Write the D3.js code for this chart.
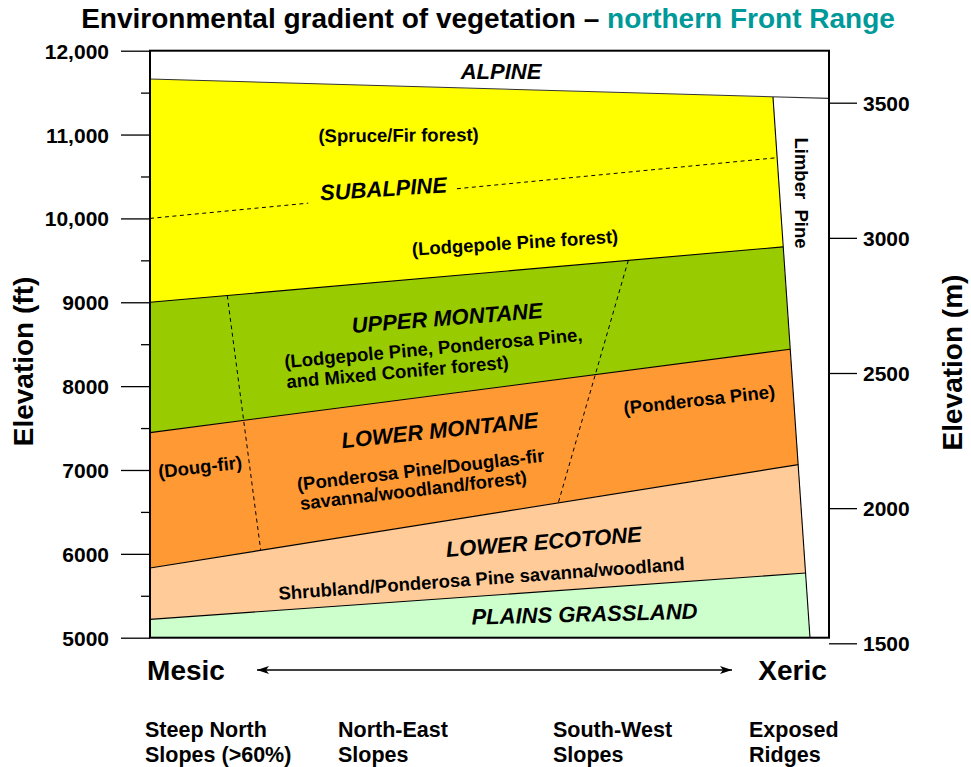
<!DOCTYPE html>
<html>
<head>
<meta charset="utf-8">
<script src="https://cdn.jsdelivr.net/npm/d3@7"></script>
<style>
  html, body { margin: 0; padding: 0; background: #fff; }
  svg { display: block; font-family: "Liberation Sans", Arial, Helvetica, sans-serif; }
</style>
</head>
<body>
<svg id="chart" width="971" height="767"></svg>
<script>
// ---------------- DATA ----------------
// x = position along the moisture gradient (0 = mesic, 100 = xeric), y = elevation in feet
const ftTicks = [5000, 6000, 7000, 8000, 9000, 10000, 11000, 12000];
const ftTickLabels = ["5000", "6000", "7000", "8000", "9000", "10,000", "11,000", "12,000"];
const ftMinorTicks = [5500, 6500, 7500, 8500, 9500, 10500, 11500];
const mTicks = [1500, 2000, 2500, 3000, 3500];
const mTickLabels = ["1500", "2000", "2500", "3000", "3500"];

// zone boundaries, top to bottom: [x, elevation ft] end points
const alpineLine   = [[0, 11662], [100, 11432]];
const boundaries = [
  [[0, 11662], [91.75, 11448]],   // alpine / subalpine
  [[0, 9000],  [93.23, 9661]],    // subalpine / upper montane
  [[0, 7446],  [94.26, 8440]],    // upper montane / lower montane
  [[0, 5831],  [95.48, 7064]],    // lower montane / lower ecotone
  [[0, 5218],  [96.57, 5771]],    // lower ecotone / plains grassland
  [[0, 5000],  [97.2, 5000]]      // base
];
const zoneNames  = ["Subalpine", "Upper montane", "Lower montane", "Lower ecotone", "Plains grassland"];
const zoneColors = ["#FFFF00", "#99CC00", "#FF9933", "#FFCC99", "#CCFFCC"];
const limberLine = [[91.75, 11448], [97.2, 5000]];

// dashed internal sub-zone lines
const dashedLines = [
  [[0, 10000], [23.3, 10182]],
  [[45.2, 10354], [92.2, 10723]],
  [[11.38, 9080], [16.3, 6044]],
  [[70.44, 9500], [60.13, 6608]]
];

const titleParts = ["Environmental gradient of vegetation \u2013 ", "northern Front Range"];
const zoneLabels = [
  "ALPINE", "(Spruce/Fir forest)", "SUBALPINE", "(Lodgepole Pine forest)",
  "UPPER MONTANE", "(Lodgepole Pine, Ponderosa Pine,", "and Mixed Conifer forest)",
  "(Ponderosa Pine)", "LOWER MONTANE", "(Doug-fir)", "(Ponderosa Pine/Douglas-fir",
  "savanna/woodland/forest)", "LOWER ECOTONE", "Shrubland/Ponderosa Pine savanna/woodland",
  "PLAINS GRASSLAND", "Limber\u00a0\u00a0Pine"
];
const gradientEnds = ["Mesic", "Xeric"];
const slopeLabels = [["Steep North", "Slopes (>60%)"], ["North-East", "Slopes"], ["South-West", "Slopes"], ["Exposed", "Ridges"]];

// ---------------- LAYOUT ----------------
const frame = { left: 150, right: 829, top: 50.7, bottom: 637.7 };
const labelLayout = [
  { cx: 501,   cy: 71.5,  rot: 0,    heading: true },
  { cx: 398.5, cy: 135,   rot: -0.5, heading: false },
  { cx: 383.4, cy: 188.5, rot: -3.8, heading: true },
  { cx: 515,   cy: 242.5, rot: -3.6, heading: false },
  { cx: 447,   cy: 317.5, rot: -4.5, heading: true },
  { cx: 433.3, cy: 347.8, rot: -5.2, heading: false },
  { cx: 397.5, cy: 371.7, rot: -5.1, heading: false },
  { cx: 699.2, cy: 399.5, rot: -6.3, heading: false },
  { cx: 439.7, cy: 430,   rot: -6,   heading: true },
  { cx: 200,   cy: 466.7, rot: -6.5, heading: false },
  { cx: 420.5, cy: 469.5, rot: -6.7, heading: false },
  { cx: 413.3, cy: 490,   rot: -6.7, heading: false },
  { cx: 543.7, cy: 541.5, rot: -4.5, heading: true },
  { cx: 481.5, cy: 578.3, rot: -4.2, heading: false },
  { cx: 584.5, cy: 613.7, rot: -1.5, heading: true },
  { cx: 802,   cy: 193,   rot: 90,   heading: false }
];

const svg = d3.select("#chart");
const x = d3.scaleLinear().domain([0, 100]).range([frame.left, frame.right]);
const yFt = d3.scaleLinear().domain([5000, 12000]).range([frame.bottom, frame.top]);
const yM = d3.scaleLinear().domain([1500, 3500]).range([643.3, 102.7]);

const line = d3.line().x(d => x(d[0])).y(d => yFt(d[1]));

// zones
const zones = zoneNames.map((name, i) => {
  const top = boundaries[i], bot = boundaries[i + 1];
  return { name, color: zoneColors[i], pts: [top[0], top[1], bot[1], bot[0]] };
});
svg.append("g").selectAll("path").data(zones).join("path")
  .attr("d", d => line(d.pts) + "Z")
  .attr("fill", d => d.color)
  .attr("stroke", "none");

// boundary lines
const bl = svg.append("g").attr("fill", "none").attr("stroke", "#000").attr("stroke-width", 1.1);
bl.append("path").attr("d", line(alpineLine)).attr("stroke", "#333");
boundaries.slice(1, 5).forEach(b => bl.append("path").attr("d", line(b)));
bl.append("path").attr("d", line(limberLine));

// dashed lines
svg.append("g").selectAll("path").data(dashedLines).join("path")
  .attr("d", d => line(d))
  .attr("fill", "none").attr("stroke", "#000").attr("stroke-width", 1)
  .attr("stroke-dasharray", "4,3.5");

// frame
svg.append("rect")
  .attr("x", frame.left).attr("y", frame.top)
  .attr("width", frame.right - frame.left).attr("height", frame.bottom - frame.top)
  .attr("fill", "none").attr("stroke", "#000").attr("stroke-width", 2);

// left axis
const axL = svg.append("g").attr("transform", `translate(${frame.left},0)`)
  .call(d3.axisLeft(yFt).tickValues(ftTicks).tickSize(29).tickPadding(12)
    .tickFormat((d, i) => ftTickLabels[i]));
const axLm = svg.append("g").attr("transform", `translate(${frame.left},0)`)
  .call(d3.axisLeft(yFt).tickValues(ftMinorTicks).tickSize(9).tickFormat(""));
// right axis
const axR = svg.append("g").attr("transform", `translate(${frame.right},0)`)
  .call(d3.axisRight(yM).tickValues(mTicks).tickSize(28).tickPadding(6)
    .tickFormat((d, i) => mTickLabels[i]));
[axL, axLm, axR].forEach(a => {
  a.select(".domain").remove();
  a.selectAll(".tick line").attr("stroke", "#000").attr("stroke-width", 1.3);
  a.selectAll(".tick text").attr("fill", "#000").attr("font-size", 21).attr("font-weight", "bold")
    .attr("font-family", '"Liberation Sans", Arial, sans-serif').attr("dy", "0.36em");
});

// title
const t = svg.append("text").attr("x", 488).attr("y", 28).attr("text-anchor", "middle")
  .attr("font-size", 28).attr("font-weight", "bold");
t.append("tspan").attr("fill", "#000").text(titleParts[0]);
t.append("tspan").attr("fill", "#009999").text(titleParts[1]);

// axis titles
svg.append("text").attr("transform", "translate(33.3,361.5) rotate(-90)")
  .attr("text-anchor", "middle").attr("font-size", 28).attr("font-weight", "bold").text("Elevation (ft)");
svg.append("text").attr("transform", "translate(962,362.5) rotate(-90)")
  .attr("text-anchor", "middle").attr("font-size", 28).attr("font-weight", "bold").text("Elevation (m)");

// zone labels
svg.append("g").selectAll("text").data(zoneLabels).join("text")
  .attr("transform", (d, i) => `translate(${labelLayout[i].cx},${labelLayout[i].cy}) rotate(${labelLayout[i].rot})`)
  .attr("text-anchor", "middle")
  .attr("y", (d, i) => (labelLayout[i].heading ? 22 : 18.5) * 0.36)
  .attr("font-size", (d, i) => labelLayout[i].heading ? 22 : 18.5)
  .attr("font-style", (d, i) => labelLayout[i].heading ? "italic" : "normal")
  .attr("font-weight", "bold")
  .attr("fill", "#000")
  .text(d => d);

// gradient arrow
svg.append("defs").append("marker").attr("id", "ah")
  .attr("viewBox", "0 0 12 8").attr("refX", 12).attr("refY", 4)
  .attr("markerWidth", 12).attr("markerHeight", 8).attr("markerUnits", "userSpaceOnUse")
  .attr("orient", "auto-start-reverse")
  .append("path").attr("d", "M0,0 L12,4 L0,8 L3,4 Z").attr("fill", "#000");
svg.append("line").attr("x1", 257).attr("x2", 732).attr("y1", 670).attr("y2", 670)
  .attr("stroke", "#000").attr("stroke-width", 1.5)
  .attr("marker-start", "url(#ah)").attr("marker-end", "url(#ah)");

svg.append("text").attr("x", 186).attr("y", 680).attr("text-anchor", "middle")
  .attr("font-size", 28).attr("font-weight", "bold").text(gradientEnds[0]);
svg.append("text").attr("x", 792.5).attr("y", 680).attr("text-anchor", "middle")
  .attr("font-size", 28).attr("font-weight", "bold").text(gradientEnds[1]);

const slopeX = [145, 338, 553, 749];
slopeLabels.forEach((lines, i) => {
  const tx = svg.append("text").attr("font-size", 21.5).attr("font-weight", "bold");
  lines.forEach((s, j) => tx.append("tspan").attr("x", slopeX[i]).attr("y", 737 + j * 25).text(s));
});
</script>
</body>
</html>
